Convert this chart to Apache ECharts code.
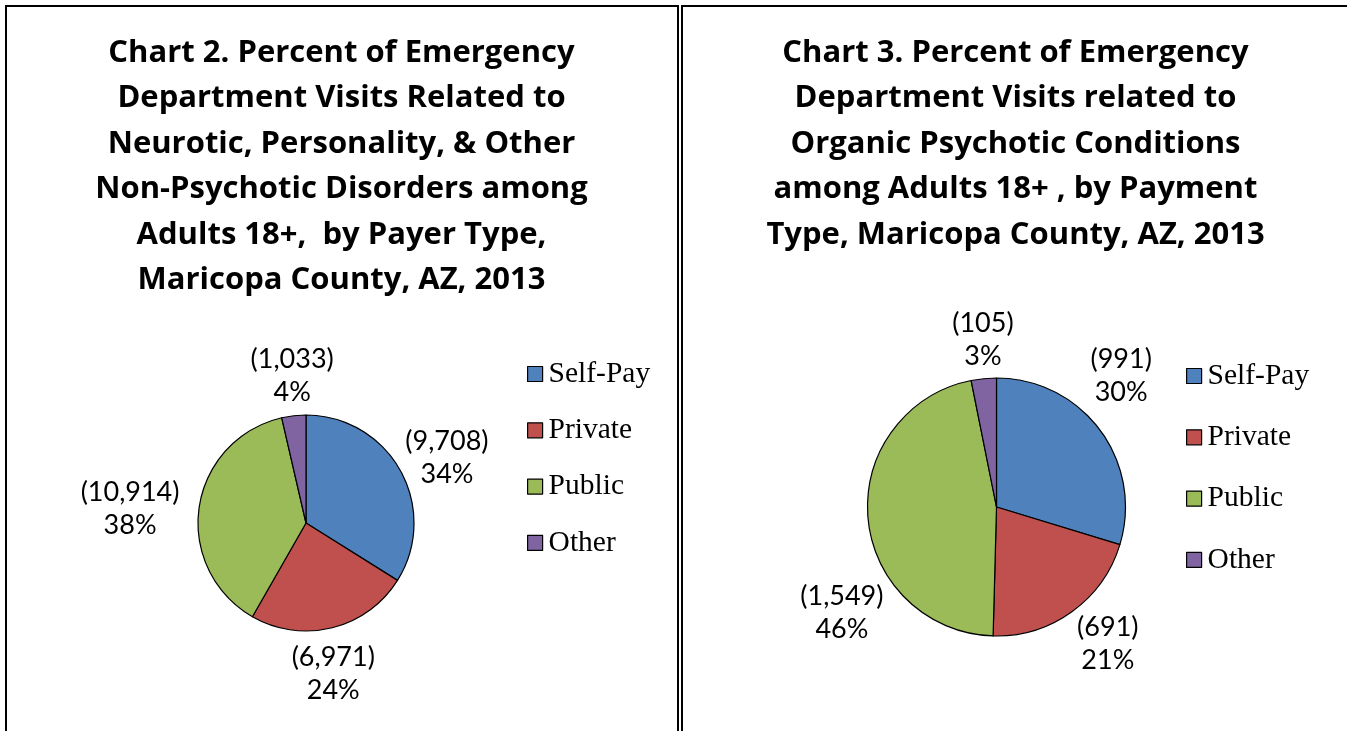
<!DOCTYPE html>
<html>
<head>
<meta charset="utf-8">
<script src="https://cdn.jsdelivr.net/npm/echarts@6/dist/echarts.min.js"></script>
<style>
  html, body { margin: 0; padding: 0; background: #fff; }
  #chart { position: absolute; left: 0; top: 0; width: 1347px; height: 731px; }
  .rule { position: absolute; background: #000; }
</style>
</head>
<body>
<div id="chart"></div>
<div class="rule" style="left:5px;top:5px;width:674px;height:2px;"></div>
<div class="rule" style="left:681px;top:5px;width:666px;height:2px;"></div>
<div class="rule" style="left:5px;top:5px;width:2px;height:726px;"></div>
<div class="rule" style="left:677px;top:5px;width:2px;height:726px;"></div>
<div class="rule" style="left:681px;top:5px;width:2px;height:726px;"></div>
<script>
// ---- data ----
const categories = ['Self-Pay', 'Private', 'Public', 'Other'];
const colors = ['#4F81BD', '#C0504D', '#9BBB59', '#8064A2'];
const chart2Title = 'Chart 2. Percent of Emergency\nDepartment Visits Related to\nNeurotic, Personality, & Other\nNon-Psychotic Disorders among\nAdults 18+,  by Payer Type,\nMaricopa County, AZ, 2013';
const chart2Values = [9708, 6971, 10914, 1033];
const chart3Title = 'Chart 3. Percent of Emergency\nDepartment Visits related to\nOrganic Psychotic Conditions\namong Adults 18+ , by Payment\nType, Maricopa County, AZ, 2013';
const chart3Values = [991, 691, 1549, 105];

// small label nudges (px) applied after the library's radial label placement,
// mimicking the spreadsheet's "best fit" label placement
const chart2LabelNudge = [[-2, 14], [-10, 2], [-13, 10], [3, 0]];
const chart3LabelNudge = [[-17, -26], [8, -7], [21, 91], [3, 0]];

const el = document.getElementById('chart');
const chart = echarts.init(el, null, { renderer: 'canvas', width: 1347, height: 731 });

const titleFont = { fontFamily: 'Open Sans', fontWeight: 'bold', fontSize: 31, lineHeight: 45.5, color: '#000' };

function toData(values) {
  return categories.map((c, i) => ({ name: c, value: values[i], itemStyle: { color: colors[i] } }));
}

function bestFitLayout(gap, nudges) {
  return function (params) {
    const pts = params.labelLinePoints;
    if (!pts || pts.length < 2) return {};
    const p0 = pts[0], p1 = pts[1];
    let dx = p1[0] - p0[0], dy = p1[1] - p0[1];
    const len = Math.sqrt(dx * dx + dy * dy) || 1;
    dx /= len; dy /= len;
    const w = params.labelRect.width, h = params.labelRect.height;
    const off = gap + Math.abs(dx) * w / 2 + Math.abs(dy) * h / 2;
    const n = nudges[params.dataIndex] || [0, 0];
    return { x: p0[0] + dx * off + n[0], y: p0[1] + dy * off + n[1], align: 'center', verticalAlign: 'middle' };
  };
}

function pieSeries(values, center, radius, nudges) {
  return {
    type: 'pie',
    center: center,
    radius: radius,
    startAngle: 90,
    clockwise: true,
    avoidLabelOverlap: false,
    animation: false,
    data: toData(values),
    itemStyle: { borderColor: '#000', borderWidth: 1.2 },
    emphasis: { disabled: true },
    label: {
      show: true,
      position: 'outside',
      fontFamily: 'Lato',
      fontSize: 27,
      lineHeight: 33,
      color: '#000',
      align: 'center',
      formatter: p => '(' + p.value.toLocaleString('en-US') + ')\n' + Math.round(p.percent) + '%'
    },
    labelLine: { show: true, length: 10, length2: 0, lineStyle: { opacity: 0, width: 0 } },
    labelLayout: bestFitLayout(3, nudges)
  };
}

const legendCommon = {
  orient: 'vertical',
  icon: 'rect',
  itemWidth: 15,
  itemHeight: 15,
  itemStyle: { borderColor: '#000', borderWidth: 1.2 },
  textStyle: { fontFamily: 'Liberation Serif', fontSize: 29.5, lineHeight: 29, color: '#000', padding: [0, 0, 0, 1] },
  selectedMode: false,
  data: categories
};

chart.setOption({
  animation: false,
  title: [
    { text: chart2Title, left: 341.5, top: 30, textAlign: 'center', textStyle: Object.assign({ align: 'center' }, titleFont), padding: 0 },
    { text: chart3Title, left: 1015.5, top: 30, textAlign: 'center', textStyle: Object.assign({ align: 'center' }, titleFont), padding: 0 }
  ],
  legend: [
    Object.assign({}, legendCommon, { left: 527, top: 359, itemGap: 26.3, padding: 0, seriesIndex: 0 }),
    Object.assign({}, legendCommon, { left: 1186, top: 361, itemGap: 31.3, padding: 0, seriesIndex: 1 })
  ],
  series: [
    pieSeries(chart2Values, [306, 523], 108, chart2LabelNudge),
    pieSeries(chart3Values, [996.5, 507], 129, chart3LabelNudge)
  ]
});
</script>
</body>
</html>
